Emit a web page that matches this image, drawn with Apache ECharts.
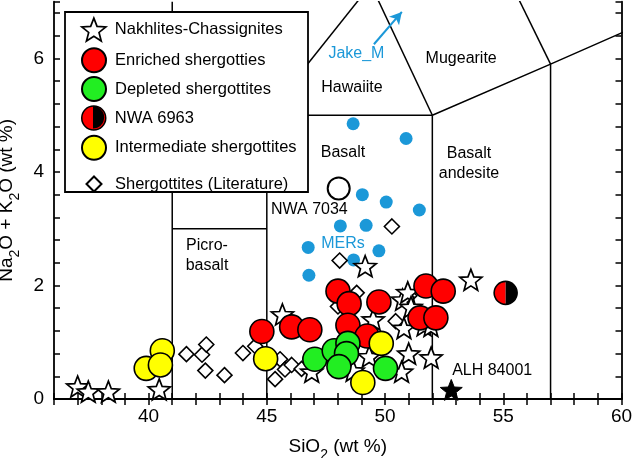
<!DOCTYPE html>
<html>
<head>
<meta charset="utf-8">
<script src="https://cdn.jsdelivr.net/npm/echarts@6/dist/echarts.min.js"></script>
<style>
html,body{margin:0;padding:0;background:#fff;}
#chart{width:633px;height:458px;}
</style>
</head>
<body>
<div id="chart"></div>
<script>
// ---------- data (SiO2 wt%, Na2O+K2O wt%) ----------
const nakhlites = [[37.0,0.22],[37.45,0.13],[38.3,0.13],[40.45,0.17],[45.66,1.49],[46.9,0.48],[48.65,0.5],
  [49.33,0.75],[49.5,1.4],[49.16,2.34],[50.74,1.75],[50.96,1.88],[51.1,1.62],[50.8,1.25],[51.65,1.3],
  [51.0,0.8],[51.95,0.73],[50.7,0.48],[53.63,2.1],[51.94,1.29]];
const enriched = [[44.79,1.19],[46.05,1.27],[46.82,1.22],[48.01,1.9],[48.48,1.68],[49.74,1.71],[48.43,1.3],
  [49.24,1.11],[51.73,1.99],[52.46,1.9],[51.48,1.43],[52.15,1.43]];
const depleted = [[47.03,0.7],[47.85,0.85],[48.43,0.98],[48.37,0.8],[48.05,0.57],[50.02,0.54]];
const nwa6963 = [[55.1,1.87]];
const intermediate = [[40.58,0.85],[39.9,0.54],[40.5,0.6],[44.95,0.71],[49.84,0.98],[49.06,0.29]];
const literature = [[41.6,0.79],[42.26,0.78],[42.44,0.96],[42.4,0.5],[43.21,0.42],[43.99,0.81],[44.51,0.93],
  [45.56,0.7],[45.77,0.52],[45.35,0.35],[46.05,0.6],[46.47,0.53],[48.01,1.63],[48.8,1.87],[50.45,1.37],
  [51.03,1.82],[50.29,3.04],[48.08,2.44]];
const mers = [[48.65,4.85],[50.89,4.59],[49.04,3.6],[50.05,3.47],[51.45,3.33],[48.11,3.05],[49.2,3.06],
  [46.75,2.67],[49.74,2.61],[48.67,2.45],[46.78,2.18]];
const nwa7034 = [[48.04,3.71]];
const alh84001 = [[52.8,0.16]];
const jakeArrow = [[49.53,6.25],[50.71,6.82]];

// TAS field boundaries (Le Bas et al.)
const tasBoundaries = [
  [[41,0],[41,7]],
  [[41,3],[45,3]],
  [[45,0],[45,5]],
  [[45,5],[52,5]],
  [[52,0],[52,5]],
  [[52,5],[57,5.9],[63,7]],
  [[57,0],[57,5.9]],
  [[45,5],[49.4,7.3]],
  [[52,5],[49.4,7.3]],
  [[57,5.9],[53,9.3]]
];

const fieldLabelNames = ['Hawaiite','Mugearite','Basalt','Basalt\nandesite','Picro-\nbasalt','NWA 7034','ALH 84001'];
const fieldLabelPos = [[48.6,5.48],[53.22,6.0],[48.22,4.35],[53.55,4.15],[42.47,2.53],[46.8,3.34],[54.53,0.5]];
const blueLabelNames = ['Jake_M','MERs'];
const blueLabelPos = [[48.79,6.08],[48.22,2.74]];

const xLabels = [40,45,50,55,60];
const yLabels = [0,2,4,6];

const legendNames = ['Nakhlites-Chassignites','Enriched shergotties','Depleted shergottites','NWA 6963',
  'Intermediate shergottites','Shergottites (Literature)'];

// ---------- chart ----------
const FONT = '"Liberation Sans", Arial, Helvetica, sans-serif';
const BLUE = '#1b98d8';

function starPath(ro, ri){
  let d = '';
  for (let k = 0; k < 10; k++){
    const a = (-90 + 36*k) * Math.PI/180;
    const r = (k % 2 === 0) ? ro : ri;
    d += (k === 0 ? 'M' : 'L') + (r*Math.cos(a)).toFixed(3) + ',' + (r*Math.sin(a)).toFixed(3) + ' ';
  }
  return 'path://' + d + 'Z';
}
const STAR = starPath(10, 4.3);

const chart = echarts.init(document.getElementById('chart'), null, {renderer:'canvas'});

const boundarySeries = tasBoundaries.map(poly => ({
  type:'line', data: poly, symbol:'none', silent:true, z:1,
  lineStyle:{color:'#000', width:1.5}, clip:true, animation:false
}));

function toData(arr, names){ return arr.map((p,i) => ({name: names[i], value: p})); }

const axisCommon = {
  type:'value',
  axisLine:{show:true, lineStyle:{color:'#000', width:1.8}},
  axisTick:{show:true, inside:true, length:6, lineStyle:{color:'#000', width:1.5}},
  splitLine:{show:false}
};

// legend layout: one legend per row for exact placement
const legendCentersY = [29.3, 59.3, 88, 117.3, 146.7, 183];
const legendIconX = 93;
const legends = legendNames.map((nm, i) => {
  const small = (i === 5);
  const sz = small ? 15 : 24;
  const item = {name: nm};
  if (nm === 'NWA 6963') { item.icon = 'circle'; item.itemStyle = {color:'#ff0000', borderColor:'#000', borderWidth:1.5, opacity:1}; }
  if (i === 0) { item.itemStyle = {color:'#fff', borderColor:'#000', borderWidth:1.7, opacity:1}; }
  return {
    orient:'vertical', left: legendIconX - sz/2, top: legendCentersY[i] - sz/2, padding:0,
    itemWidth: sz, itemHeight: sz,
    textStyle:{fontSize:16.5, color:'#000', fontFamily:FONT, padding:[0,0,0, 114 - (legendIconX + sz/2 + 5)]},
    data:[item], selectedMode:false, z:6
  };
});

const option = {
  animation:false,
  backgroundColor:'#fff',
  textStyle:{fontFamily:FONT},
  grid:{left:54, right:11.5, top:1.7, bottom:59, containLabel:false, outerBoundsMode:'none'},
  xAxis:[
    Object.assign({}, axisCommon, {
      min:36, max:60, interval:1, position:'bottom',
      axisLabel:{fontSize:19, color:'#000', fontFamily:FONT, margin:8,
        formatter: v => xLabels.indexOf(Math.round(v)) >= 0 && Math.abs(v-Math.round(v))<1e-6 ? String(Math.round(v)) : ''},
      name:'SiO{s|2} (wt %)', nameLocation:'middle', nameGap:28,
      nameTextStyle:{fontSize:19, color:'#000', fontFamily:FONT, lineHeight:31,
        rich:{s:{fontSize:14, lineHeight:14, verticalAlign:'bottom', fontFamily:FONT, color:'#000'}}}
    }),
    Object.assign({}, axisCommon, {
      min:36, max:60, interval:1, position:'top', axisLabel:{show:false}
    })
  ],
  yAxis:[
    Object.assign({}, axisCommon, {
      min:0, max:7, interval:0.4, position:'left',
      axisLabel:{fontSize:19, color:'#000', fontFamily:FONT, margin:10,
        formatter: v => { const r = Math.round(v); return (Math.abs(v-r)<1e-6 && yLabels.indexOf(r)>=0) ? String(r) : ''; }},
      name:'Na{s|2}O + K{s|2}O (wt %)', nameLocation:'middle', nameGap:17,
      nameTextStyle:{fontSize:19, color:'#000', fontFamily:FONT, lineHeight:31,
        rich:{s:{fontSize:14, lineHeight:14, verticalAlign:'bottom', fontFamily:FONT, color:'#000'}}}
    }),
    Object.assign({}, axisCommon, {
      min:0, max:7, interval:0.4, position:'right', axisLabel:{show:false}
    })
  ],
  legend: legends,
  graphic:[
    {type:'rect', shape:{x:65, y:12, width:243, height:180}, z:5,
      style:{fill:'#fff', stroke:'#000', lineWidth:1.8}},
    {type:'sector', shape:{cx:legendIconX, cy:legendCentersY[3], r:11.2, r0:0, startAngle:-Math.PI/2, endAngle:Math.PI/2}, z:100,
      style:{fill:'#000'}}
  ],
  series: boundarySeries.concat([
    {
      name:'fieldLabels', type:'scatter', data: toData(fieldLabelPos, fieldLabelNames),
      symbolSize:1, itemStyle:{color:'rgba(0,0,0,0)', opacity:1}, silent:true, z:3,
      label:{show:true, position:'inside', formatter: p => p.name, color:'#000', fontSize:16,
        fontFamily:FONT, lineHeight:20}
    },
    {
      name:'blueLabels', type:'scatter', data: toData(blueLabelPos, blueLabelNames),
      symbolSize:1, itemStyle:{color:'rgba(0,0,0,0)', opacity:1}, silent:true, z:3,
      label:{show:true, position:'inside', formatter: p => p.name, color:BLUE, fontSize:16, fontFamily:FONT}
    },
    {
      name:'Jake_M arrow', type:'line', data:[], symbol:'none',
      markLine:{silent:true, symbol:['none','arrow'], symbolSize:[10,12], label:{show:false},
        lineStyle:{color:BLUE, width:2, type:'solid'},
        data:[[{coord:jakeArrow[0]},{coord:jakeArrow[1]}]]}
    },
    {
      name:'MERs', type:'scatter', data: mers, symbol:'circle', symbolSize:13,
      itemStyle:{color:BLUE, opacity:1}
    },
    {
      name:'Shergottites (Literature)', type:'scatter', data: literature, symbol:'diamond', symbolSize:15,
      itemStyle:{color:'#fff', borderColor:'#000', borderWidth:1.6, opacity:1}
    },
    {
      name:'Nakhlites-Chassignites', type:'scatter', data: nakhlites, symbol:STAR, symbolSize:22,
      symbolKeepAspect:true,
      itemStyle:{color:'#fff', borderColor:'#000', borderWidth:1.7, opacity:1}
    },
    {
      name:'ALH 84001', type:'scatter', data: alh84001, symbol:STAR, symbolSize:22, symbolKeepAspect:true,
      itemStyle:{color:'#000', borderColor:'#000', borderWidth:1, opacity:1}
    },
    {
      name:'NWA 7034', type:'scatter', data: nwa7034, symbol:'circle', symbolSize:22,
      itemStyle:{color:'#fff', borderColor:'#000', borderWidth:2, opacity:1}
    },
    {
      name:'Enriched shergotties', type:'scatter', data: enriched, symbol:'circle', symbolSize:24,
      itemStyle:{color:'#ff0000', borderColor:'#000', borderWidth:1.6, opacity:1}
    },
    {
      name:'Depleted shergottites', type:'scatter', data: depleted, symbol:'circle', symbolSize:24,
      itemStyle:{color:'#22ee22', borderColor:'#000', borderWidth:1.6, opacity:1}
    },
    {
      name:'Intermediate shergottites', type:'scatter', data: intermediate, symbol:'circle', symbolSize:24,
      itemStyle:{color:'#ffff00', borderColor:'#000', borderWidth:1.6, opacity:1}
    },
    {
      name:'NWA 6963', type:'custom', data: nwa6963, encode:{x:0, y:1},
      itemStyle:{color:'#ff0000'},
      renderItem: function(params, api){
        const p = api.coord([api.value(0), api.value(1)]);
        const r = 11.5;
        return {type:'group', children:[
          {type:'sector', shape:{cx:p[0], cy:p[1], r:r, r0:0, startAngle:Math.PI/2, endAngle:Math.PI*1.5}, style:{fill:'#ff0000'}},
          {type:'sector', shape:{cx:p[0], cy:p[1], r:r, r0:0, startAngle:-Math.PI/2, endAngle:Math.PI/2}, style:{fill:'#000'}},
          {type:'circle', shape:{cx:p[0], cy:p[1], r:r}, style:{fill:'none', stroke:'#000', lineWidth:1.6}}
        ]};
      }
    }
  ])
};
chart.setOption(option);
</script>
</body>
</html>
